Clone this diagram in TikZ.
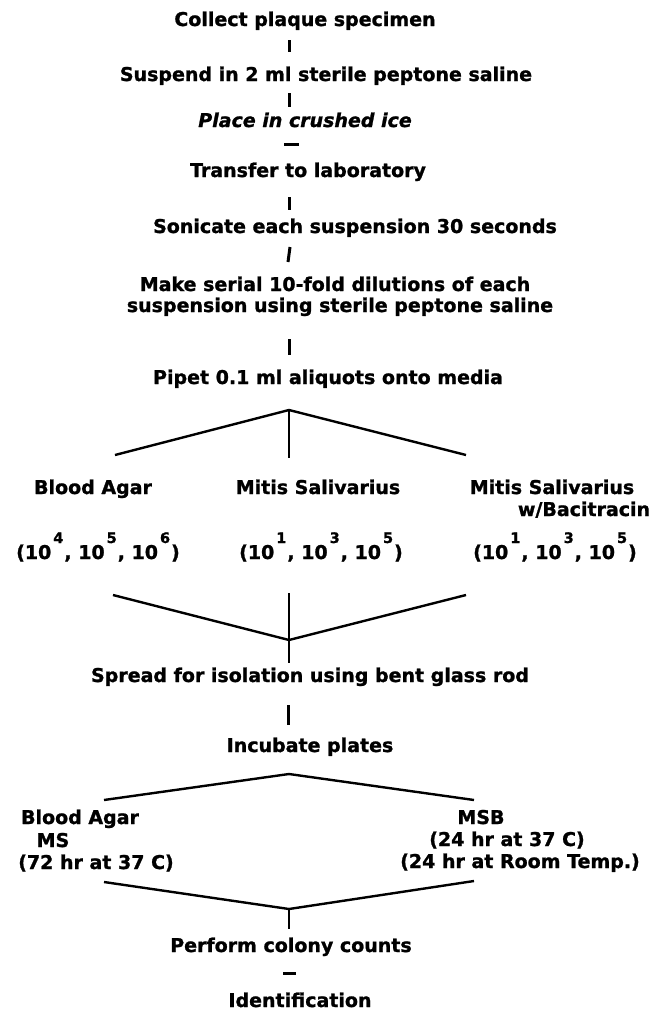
\documentclass[tikz,border=0pt]{standalone}
\usepackage{fontspec}
\setmainfont{DejaVu Sans}[BoldFeatures={FakeBold=1.2}, BoldItalicFeatures={FakeBold=1.2}]
% power of ten with a raised exponent
\newcommand\tenp[1]{10\kern2pt\raisebox{16pt}{\fontsize{14.5}{14.5}\selectfont #1}\kern1pt}
\begin{document}
\begin{tikzpicture}[x=1pt,y=-1pt,
  txt/.style={font=\fontsize{19}{21}\selectfont\bfseries, inner sep=0pt, anchor=base},
  itxt/.style={txt, font=\fontsize{19}{21}\selectfont\bfseries\itshape},
  bar/.style={line width=3pt},
  branch/.style={line width=2.4pt, line join=miter},
]
\useasboundingbox (0,0) rectangle (665,1012);

% ---- steps ----
\node[txt]  (collect)  at (305,26)  {Collect plaque specimen};
\node[txt]  (suspend)  at (326,81)  {Suspend in 2 ml sterile peptone saline};
\node[itxt] (ice)      at (305,127) {Place in crushed ice};
\node[txt]  (transfer) at (308,177) {Transfer to laboratory};
\node[txt]  (sonicate) at (355,233) {Sonicate each suspension 30 seconds};
\node[txt]  (dilA)     at (335,291) {Make serial 10-fold dilutions of each};
\node[txt]  (dilB)     at (340,312) {suspension using sterile peptone saline};
\node[txt]  (pipet)    at (328,384) {Pipet 0.1 ml aliquots onto media};

% ---- media ----
\node[txt] (ba1)  at (93,494)  {Blood Agar};
\node[txt] (ms1)  at (318,494) {Mitis Salivarius};
\node[txt] (msb1) at (552,494) {Mitis Salivarius};
\node[txt] (bac)  at (584,516) {w/Bacitracin};
\node[txt] (dba)  at (98,559)  {(\tenp4, \tenp5, \tenp6)};
\node[txt] (dms)  at (321,559) {(\tenp1, \tenp3, \tenp5)};
\node[txt] (dmsb) at (555,559) {(\tenp1, \tenp3, \tenp5)};

\node[txt] (spread)   at (310,682) {Spread for isolation using bent glass rod};
\node[txt] (incubate) at (310,752) {Incubate plates};

% ---- incubation ----
\node[txt] (ba2)  at (80,824)  {Blood Agar};
\node[txt] (ms2)  at (53,847)  {MS};
\node[txt] (t72)  at (96,869)  {(72 hr at 37 C)};
\node[txt] (msb2) at (481,824) {MSB};
\node[txt] (t24a) at (507,846) {(24 hr at 37 C)};
\node[txt] (t24b) at (520,868) {(24 hr at Room Temp.)};

\node[txt] (count) at (291,952)  {Perform colony counts};
\node[txt] (ident) at (300,1007) {Identification};

% ---- connector end points ----
\coordinate (c1a) at (289,40);  \coordinate (c1b) at (289,52);
\coordinate (c2a) at (289,93);  \coordinate (c2b) at (289,107);
\coordinate (d1a) at (284,144); \coordinate (d1b) at (299,144);
\coordinate (c3a) at (289,197); \coordinate (c3b) at (289,210);
\coordinate (c4a) at (290,247); \coordinate (c4b) at (288,262);
\coordinate (c5a) at (289,339); \coordinate (c5b) at (289,355);

\coordinate (f1)  at (289,410);
\coordinate (f1l) at (115,455); \coordinate (f1m) at (289,458); \coordinate (f1r) at (466,455);

\coordinate (v1)  at (289,640);
\coordinate (v1l) at (113,595); \coordinate (v1t) at (289,593); \coordinate (v1r) at (466,595);
\coordinate (v1b) at (289,663);

\coordinate (c6a) at (288,705); \coordinate (c6b) at (288,725);

\coordinate (f2)  at (289,774);
\coordinate (f2l) at (104,800); \coordinate (f2r) at (474,800);

\coordinate (v2)  at (289,909);
\coordinate (v2l) at (104,882); \coordinate (v2r) at (474,881);
\coordinate (v2b) at (289,929);

\coordinate (d2a) at (283,973); \coordinate (d2b) at (296,973);

% ---- connectors ----
\draw[bar] (c1a) -- (c1b);
\draw[bar] (c2a) -- (c2b);
\draw[bar] (d1a) -- (d1b);
\draw[bar] (c3a) -- (c3b);
\draw[bar] (c4a) -- (c4b);
\draw[bar] (c5a) -- (c5b);
\draw[branch] (f1l) -- (f1) -- (f1r);
\draw[branch] (f1) -- (f1m);
\draw[branch] (v1l) -- (v1) -- (v1r);
\draw[branch] (v1t) -- (v1b);
\draw[bar] (c6a) -- (c6b);
\draw[branch] (f2l) -- (f2) -- (f2r);
\draw[branch] (v2l) -- (v2) -- (v2r);
\draw[branch] (v2) -- (v2b);
\draw[bar] (d2a) -- (d2b);
\end{tikzpicture}
\end{document}
